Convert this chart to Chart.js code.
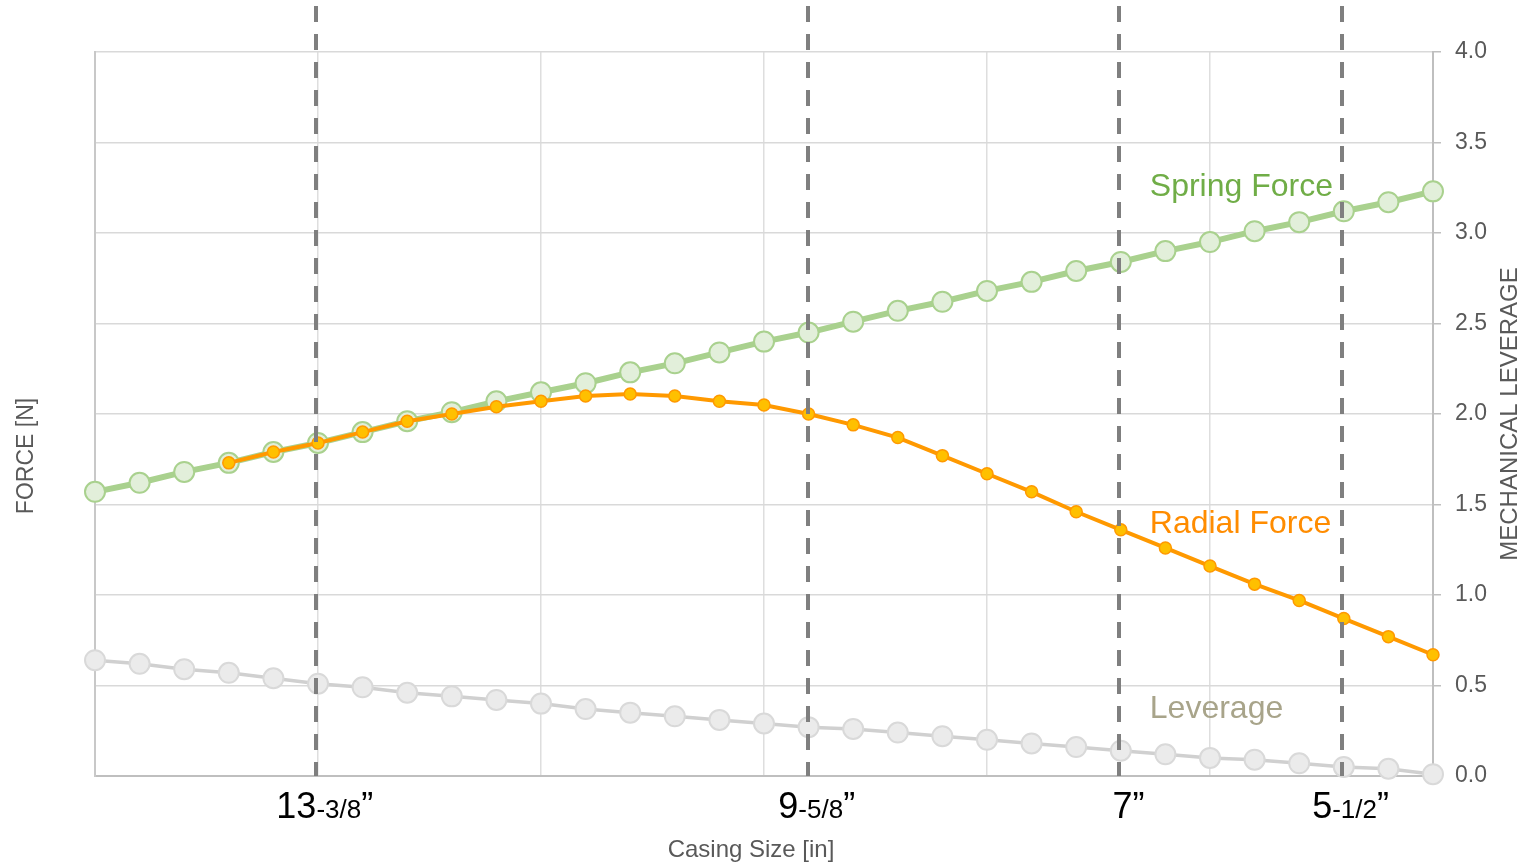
<!DOCTYPE html>
<html>
<head>
<meta charset="utf-8">
<script src="https://cdn.jsdelivr.net/npm/chart.js@4.4.0/dist/chart.umd.min.js"></script>
<style>
  html, body { margin: 0; padding: 0; background: #fff; }
  #wrap { width: 1534px; height: 866px; }
</style>
</head>
<body>
<div id="wrap"><canvas id="casingChart"></canvas></div>
<script>
const FONT = '"Liberation Sans", Arial, sans-serif';

// sample steps along the x axis
const steps = [0, 1, 2, 3, 4, 5, 6, 7, 8, 9, 10, 11, 12, 13, 14, 15,
               16, 17, 18, 19, 20, 21, 22, 23, 24, 25, 26, 27, 28, 29, 30];

const springForce = [1.57, 1.62, 1.68, 1.73, 1.79, 1.84, 1.90, 1.96, 2.01, 2.07, 2.12,
                     2.17, 2.23, 2.28, 2.34, 2.40, 2.45, 2.51, 2.57, 2.62, 2.68,
                     2.73, 2.79, 2.84, 2.90, 2.95, 3.01, 3.06, 3.12, 3.17, 3.23];

const radialForce = [null, null, null, 1.73, 1.79, 1.84, 1.90, 1.96, 2.00, 2.04, 2.07,
                     2.10, 2.11, 2.10, 2.07, 2.05, 2.00, 1.94, 1.87, 1.77, 1.67,
                     1.57, 1.46, 1.36, 1.26, 1.16, 1.06, 0.97, 0.87, 0.77, 0.67];

const leverage = [0.64, 0.62, 0.59, 0.57, 0.54, 0.51, 0.49, 0.46, 0.44, 0.42, 0.40,
                  0.37, 0.35, 0.33, 0.31, 0.29, 0.27, 0.26, 0.24, 0.22, 0.20,
                  0.18, 0.16, 0.14, 0.12, 0.10, 0.09, 0.07, 0.05, 0.04, 0.01];

// casing sizes marked with dashed lines
const casingPos  = [4.95, 15.98, 22.97, 27.95];
const casingMain = ['13', '9', '7', '5'];
const casingFrac = ['-3/8', '-5/8', '', '-1/2'];

const seriesTags = [
  { text: 'Spring Force', color: '#70ad47', at: [23.65, 3.207] },
  { text: 'Radial Force', color: '#ff8c00', at: [23.65, 1.34] },
  { text: 'Leverage',     color: '#a8a48a', at: [23.65, 0.318] }
];

function vText(ctx, txt, cx, cy, font) {
  ctx.save();
  ctx.translate(cx, cy);
  ctx.rotate(-Math.PI / 2);
  ctx.textAlign = 'center';
  ctx.textBaseline = 'middle';
  ctx.font = font;
  ctx.fillText(txt, 0, 0);
  ctx.restore();
}

const casingPlugin = {
  id: 'casingMarks',
  afterDatasetsDraw(chart) {
    const { ctx, scales: { x, y } } = chart;
    ctx.save();

    // dashed casing lines
    ctx.strokeStyle = '#7f7f7f';
    ctx.lineWidth = 4;
    ctx.setLineDash([16, 12]);
    casingPos.forEach(p => {
      const px = Math.round(x.getPixelForValue(p));
      ctx.beginPath();
      ctx.moveTo(px, 6);
      ctx.lineTo(px, y.bottom);
      ctx.stroke();
    });
    ctx.setLineDash([]);

    // casing labels: big whole number, small fraction
    const big = '36px ' + FONT, small = '26px ' + FONT;
    ctx.fillStyle = '#000';
    ctx.textAlign = 'left';
    ctx.textBaseline = 'alphabetic';
    casingMain.forEach((main, i) => {
      const cx = x.getPixelForValue(casingPos[i]) + 9;
      ctx.font = big;
      const w1 = ctx.measureText(main).width;
      const wq = ctx.measureText('\u201D').width;
      ctx.font = small;
      const w2 = ctx.measureText(casingFrac[i]).width;
      let left = cx - (w1 + w2 + wq) / 2;
      ctx.font = big;
      ctx.fillText(main, left, 818);
      left += w1;
      ctx.font = small;
      ctx.fillText(casingFrac[i], left, 818);
      left += w2;
      ctx.font = big;
      ctx.fillText('\u201D', left, 818);
    });

    // series tags
    ctx.font = '32px ' + FONT;
    seriesTags.forEach(t => {
      ctx.fillStyle = t.color;
      ctx.fillText(t.text, x.getPixelForValue(t.at[0]), y.getPixelForValue(t.at[1]));
    });

    // axis titles
    ctx.fillStyle = '#595959';
    ctx.font = '24px ' + FONT;
    ctx.textAlign = 'center';
    ctx.fillText('Casing Size [in]', (x.left + x.right) / 2 - 13, 857);
    vText(ctx, 'FORCE [N]', 27, 456, '23px ' + FONT);
    vText(ctx, 'MECHANICAL LEVERAGE', 1510, (y.top + y.bottom) / 2, '24px ' + FONT);

    ctx.restore();
  }
};

const ctx = document.getElementById('casingChart').getContext('2d');
const casingChart = new Chart(ctx, {
  type: 'line',
  data: {
    labels: steps,
    datasets: [
      {
        label: 'Radial Force',
        data: radialForce,
        borderColor: '#ff9900',
        borderWidth: 4,
        pointRadius: 6,
        pointBorderWidth: 1.5,
        pointBackgroundColor: '#ffc000',
        pointBorderColor: '#ff9900',
        clip: false,
        order: 0
      },
      {
        label: 'Spring Force',
        data: springForce,
        borderColor: '#a9d18e',
        borderWidth: 6,
        pointRadius: 10,
        pointBorderWidth: 2,
        pointBackgroundColor: '#e2efda',
        pointBorderColor: '#a9d18e',
        clip: false,
        order: 1
      },
      {
        label: 'Leverage',
        data: leverage,
        borderColor: '#d0d0d0',
        borderWidth: 3.5,
        pointRadius: 10,
        pointBorderWidth: 2,
        pointBackgroundColor: '#ebebeb',
        pointBorderColor: '#d9d9d9',
        clip: false,
        order: 2
      }
    ]
  },
  options: {
    responsive: true,
    maintainAspectRatio: false,
    animation: false,
    layout: { padding: { top: 52, left: 0, right: 0, bottom: 0 } },
    plugins: {
      legend: { display: false },
      tooltip: { enabled: false }
    },
    scales: {
      x: {
        type: 'category',
        offset: false,
        afterFit: s => { s.height = 90; },
        ticks: { display: false },
        grid: {
          drawTicks: false,
          lineWidth: 1.5,
          color: c => (c.index % 5 === 0 ? '#dedede' : 'rgba(0,0,0,0)')
        },
        border: { color: '#bfbfbf', width: 2 }
      },
      yL: {
        position: 'left',
        min: 0,
        max: 4,
        afterFit: s => { s.width = 95; },
        ticks: { display: false },
        grid: { drawOnChartArea: false, drawTicks: false },
        border: { color: '#c8c8c8', width: 2 }
      },
      y: {
        position: 'right',
        min: 0,
        max: 4,
        afterFit: s => { s.width = 101; },
        ticks: {
          stepSize: 0.5,
          padding: 14,
          color: '#595959',
          font: { family: FONT, size: 23 },
          callback: v => v.toFixed(1)
        },
        grid: { color: '#d9d9d9', lineWidth: 1.5, tickLength: 8, tickColor: '#bfbfbf' },
        border: { color: '#bfbfbf', width: 2 }
      }
    }
  },
  plugins: [casingPlugin]
});
</script>
</body>
</html>
